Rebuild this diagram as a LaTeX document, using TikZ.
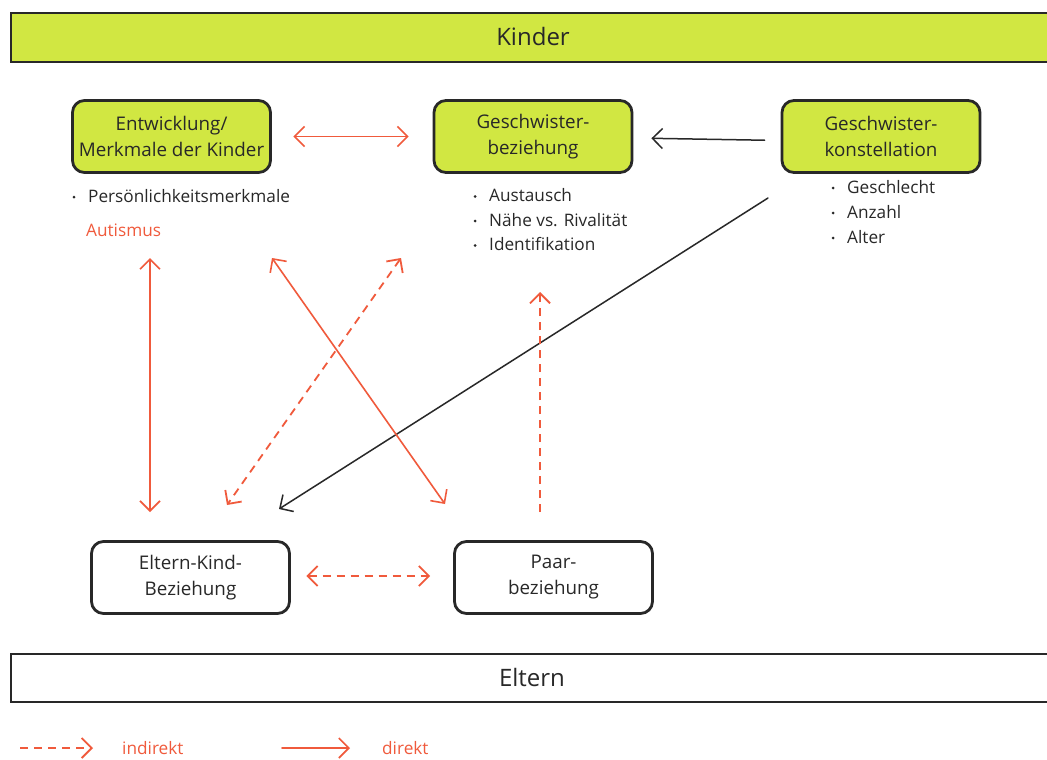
\documentclass[tikz,border=0pt]{standalone}
\usepackage{fontspec}
\setmainfont{Open Sans}
\usetikzlibrary{arrows.meta}
\definecolor{kgreen}{RGB}{209,231,66}
\definecolor{kred}{RGB}{240,90,60}
\definecolor{kgray}{RGB}{40,40,40}

\begin{document}
\begin{tikzpicture}[x=1pt, y=-1pt, every node/.style={font=\fontsize{17.2}{20}\selectfont, text=kgray, inner sep=0pt},
	>={Straight Barb[length=10pt,width=20pt]},
	box/.style={draw=kgray, line width=2.8pt, rounded corners=12pt, minimum width=198pt, minimum height=72pt, align=center, font=\fontsize{18.8}{26}\selectfont},
	bar/.style={draw=kgray, line width=2.8pt},
	rel/.style={kred, line width=1.6pt, line cap=round},
	indir/.style={rel, line width=1.8pt, line cap=butt, dash pattern=on 8pt off 6pt},
	infl/.style={kgray, line width=1.5pt, line cap=round}]
	\clip (0,0) rectangle (1047,760);
	\fill[white] (0,0) rectangle (1047,760);
	% frames
	\draw[bar, fill=kgreen] (11,13) rectangle (1070,62);
	\draw[bar, fill=white] (11,654) rectangle (1070,702);
	\node[font=\fontsize{24}{28}\selectfont] (kinder) at (533,37) {Kinder};
	\node[font=\fontsize{24}{28}\selectfont] (eltern) at (532,677) {Eltern};
	% boxes
	\node[box, fill=kgreen] (entw) at (171.5,136.5) {Entwicklung/\\Merkmale der Kinder};
	\node[box, fill=kgreen] (gbez) at (533,136.5) {Geschwister-\\beziehung};
	\node[box, fill=kgreen] (gkon) at (881,136.5) {Geschwister-\\konstellation};
	\node[box, fill=white] (ekb) at (190.5,577.5) {Eltern-Kind-\\Beziehung};
	\node[box, fill=white] (paar) at (553.5,577.5) {Paar-\\beziehung};
	% lists
	\fill[kgray] (74,197) circle (1.5);
	\node[anchor=base west] (pers) at (88,202) {Persönlichkeitsmerkmale};
	\node[anchor=base west, text=kred] (autismus) at (86,236) {Autismus};
	\foreach \t [count=\i] in {Austausch, Nähe vs. Rivalität, Identifikation} {
		\fill[kgray] (475,172+24.5*\i) circle (1.5);
		\node[anchor=base west] (gb\i) at (489,177+24.5*\i) {\t};
	}
	\foreach \t [count=\i] in {Geschlecht, Anzahl, Alter} {
		\fill[kgray] (833,163+25*\i) circle (1.5);
		\node[anchor=base west] (gk\i) at (847,168+25*\i) {\t};
	}
	% free ends
	\coordinate (vTop) at (150,258);
	\coordinate (vBot) at (150,512);
	\coordinate (sTop) at (272,258);
	\coordinate (sBot) at (445,504);
	\coordinate (dTop) at (401,258);
	\coordinate (dBot) at (227,505);
	\coordinate (pTop) at (540,292);
	\coordinate (pBot) at (540,512);
	\coordinate (kStart) at (768,198);
	\coordinate (kEnd) at (279,509);
	% connectors
	\draw[rel, <->, shorten <=21.5pt, shorten >=24pt] (entw.east) -- (gbez.west);
	\draw[infl, ->, shorten <=16pt, shorten >=18pt] ([yshift=-4pt]gkon.west) -- ([yshift=-1.5pt]gbez.east);
	\draw[infl, ->] (kStart) -- (kEnd);
	\draw[rel, <->] (vTop) -- (vBot);
	\draw[rel, <->] (sTop) -- (sBot);
	\draw[indir, <->] (dTop) -- (dBot);
	\draw[indir, ->] (pBot) -- (pTop);
	\draw[indir, <->, shorten <=15.5pt, shorten >=23pt] ([yshift=1.5pt]ekb.east) -- ([yshift=1.5pt]paar.west);
	% legend
	\coordinate (lgA) at (20,748);
	\coordinate (lgB) at (93,748);
	\coordinate (lgC) at (282,748);
	\coordinate (lgD) at (350,748);
	\draw[indir, ->] (lgA) -- (lgB);
	\draw[rel, ->] (lgC) -- (lgD);
	\node[anchor=base west, text=kred] (indirekt) at (122,754) {indirekt};
	\node[anchor=base west, text=kred] (direkt) at (382,754) {direkt};
\end{tikzpicture}
\end{document}
